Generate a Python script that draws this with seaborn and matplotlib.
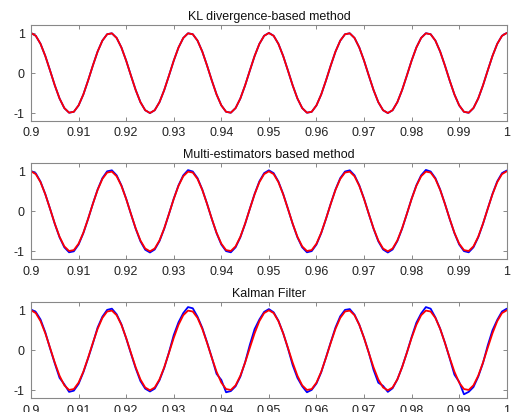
import numpy as np
import pandas as pd
import matplotlib
matplotlib.use('Agg')
import matplotlib.pyplot as plt
import seaborn as sns

# time axis, 1 ms samples from 0.9 s to 1.0 s
time = np.round(np.arange(0.9, 1.0005, 0.001), 3)

# reference signal (red)
reference = [
    1.000, 0.930, 0.729, 0.426, 0.063, -0.309, -0.637, -0.876, -0.992, -0.969,
    -0.809, -0.536, -0.187, 0.187, 0.536, 0.809, 0.969, 0.992, 0.876, 0.637,
    0.309, -0.063, -0.426, -0.729, -0.930, -1.000, -0.930, -0.729, -0.426, -0.063,
    0.309, 0.637, 0.876, 0.992, 0.969, 0.809, 0.536, 0.187, -0.187, -0.536,
    -0.809, -0.969, -0.992, -0.876, -0.637, -0.309, 0.063, 0.426, 0.729, 0.930,
    1.000, 0.930, 0.729, 0.426, 0.063, -0.309, -0.637, -0.876, -0.992, -0.969,
    -0.809, -0.536, -0.187, 0.187, 0.536, 0.809, 0.969, 0.992, 0.876, 0.637,
    0.309, -0.063, -0.426, -0.729, -0.930, -1.000, -0.930, -0.729, -0.426, -0.063,
    0.309, 0.637, 0.876, 0.992, 0.969, 0.809, 0.536, 0.187, -0.187, -0.536,
    -0.809, -0.969, -0.992, -0.876, -0.637, -0.309, 0.063, 0.426, 0.729, 0.930,
    1.000,
]

# KL divergence-based estimate (blue, almost identical)
kl_estimate = [
    1.000, 0.931, 0.730, 0.427, 0.064, -0.310, -0.638, -0.877, -0.993, -0.970,
    -0.810, -0.537, -0.186, 0.188, 0.537, 0.810, 0.970, 0.993, 0.877, 0.638,
    0.310, -0.062, -0.425, -0.730, -0.931, -1.002, -0.931, -0.730, -0.427, -0.064,
    0.308, 0.636, 0.875, 0.993, 0.970, 0.810, 0.537, 0.188, -0.186, -0.535,
    -0.808, -0.970, -0.993, -0.877, -0.638, -0.310, 0.062, 0.425, 0.728, 0.931,
    1.002, 0.931, 0.730, 0.427, 0.064, -0.310, -0.638, -0.877, -0.993, -0.970,
    -0.810, -0.537, -0.188, 0.186, 0.535, 0.808, 0.970, 0.993, 0.877, 0.638,
    0.310, -0.064, -0.427, -0.730, -0.931, -1.002, -0.931, -0.730, -0.427, -0.064,
    0.310, 0.638, 0.877, 0.995, 0.970, 0.810, 0.537, 0.188, -0.188, -0.537,
    -0.810, -0.970, -0.995, -0.877, -0.638, -0.310, 0.064, 0.427, 0.730, 0.931,
    1.002,
]

# Multi-estimators based estimate (blue, slightly larger amplitude)
multi_estimate = [
    1.010, 0.950, 0.740, 0.430, 0.065, -0.315, -0.650, -0.900, -1.025, -1.000,
    -0.830, -0.545, -0.190, 0.190, 0.545, 0.830, 1.000, 1.025, 0.900, 0.650,
    0.315, -0.065, -0.435, -0.750, -0.960, -1.030, -0.955, -0.745, -0.435, -0.065,
    0.315, 0.650, 0.900, 1.030, 0.995, 0.830, 0.545, 0.190, -0.190, -0.545,
    -0.830, -0.995, -1.025, -0.900, -0.650, -0.315, 0.065, 0.435, 0.750, 0.955,
    1.025, 0.955, 0.745, 0.435, 0.065, -0.315, -0.650, -0.900, -1.025, -0.995,
    -0.830, -0.545, -0.190, 0.190, 0.545, 0.830, 0.995, 1.025, 0.900, 0.650,
    0.315, -0.065, -0.435, -0.750, -0.955, -1.030, -0.955, -0.745, -0.435, -0.065,
    0.315, 0.650, 0.900, 1.035, 0.995, 0.830, 0.545, 0.190, -0.190, -0.545,
    -0.830, -0.995, -1.025, -0.900, -0.650, -0.315, 0.065, 0.435, 0.750, 0.955,
    1.020,
]

# Kalman filter estimate (blue, noisy)
kalman_estimate = [
    1.020, 0.960, 0.770, 0.450, 0.050, -0.330, -0.690, -0.850, -1.040, -1.010,
    -0.840, -0.550, -0.200, 0.170, 0.570, 0.840, 1.010, 1.040, 0.900, 0.650,
    0.300, -0.080, -0.450, -0.770, -0.960, -1.030, -0.960, -0.750, -0.440, -0.050,
    0.380, 0.700, 0.930, 1.080, 1.050, 0.840, 0.560, 0.200, -0.180, -0.590,
    -0.740, -1.050, -1.020, -0.900, -0.660, -0.300, 0.140, 0.530, 0.770, 0.960,
    1.030, 0.950, 0.740, 0.430, 0.050, -0.370, -0.690, -0.900, -1.050, -0.990,
    -0.830, -0.550, -0.180, 0.200, 0.570, 0.850, 1.010, 1.030, 0.890, 0.640,
    0.310, -0.060, -0.490, -0.810, -0.890, -1.040, -0.950, -0.730, -0.420, -0.060,
    0.330, 0.690, 0.920, 1.080, 1.040, 0.820, 0.540, 0.190, -0.200, -0.610,
    -0.790, -1.100, -1.040, -0.920, -0.660, -0.320, 0.120, 0.500, 0.760, 0.970,
    1.040,
]

titles = ['KL divergence-based method', 'Multi-estimators based method', 'Kalman Filter']
estimates = [kl_estimate, multi_estimate, kalman_estimate]

x_ticks = [0.9, 0.91, 0.92, 0.93, 0.94, 0.95, 0.96, 0.97, 0.98, 0.99, 1.0]
x_tick_labels = ['0.9', '0.91', '0.92', '0.93', '0.94', '0.95', '0.96', '0.97', '0.98', '0.99', '1']
y_ticks = [-1, 0, 1]
y_tick_labels = ['-1', '0', '1']

sns.set_theme(style='ticks')
plt.rcParams['font.family'] = ['Liberation Sans', 'DejaVu Sans']
plt.rcParams['xtick.direction'] = 'in'
plt.rcParams['ytick.direction'] = 'in'

fig = plt.figure(figsize=(5.11, 4.12), dpi=100)
bottoms = [0.7063, 0.3706, 0.0333]

for title, est, bottom in zip(titles, estimates, bottoms):
    ax = fig.add_axes([0.0607, bottom, 0.931, 0.233])
    df = pd.DataFrame({'t': time, 'est': est, 'ref': reference})
    sns.lineplot(data=df, x='t', y='est', color='#0000ff', linewidth=1.3, ax=ax)
    sns.lineplot(data=df, x='t', y='ref', color='#ff0000', linewidth=1.3, ax=ax)
    ax.set_xlim(0.9, 1.0)
    ax.set_ylim(-1.2, 1.2)
    ax.set_xticks(x_ticks)
    ax.set_xticklabels(x_tick_labels)
    ax.set_yticks(y_ticks)
    ax.set_yticklabels(y_tick_labels)
    ax.set_xlabel('')
    ax.set_ylabel('')
    ax.set_title(title, fontsize=9, pad=3.5, color='#111111')
    ax.tick_params(axis='both', labelsize=9, colors='#888888', labelcolor='#222222',
                   length=3, width=0.7, top=True, right=True, pad=4.5)
    for spine in ax.spines.values():
        spine.set_color('#888888')
        spine.set_linewidth(0.8)
        spine.set_visible(True)

fig.savefig('out.png', dpi=100)
